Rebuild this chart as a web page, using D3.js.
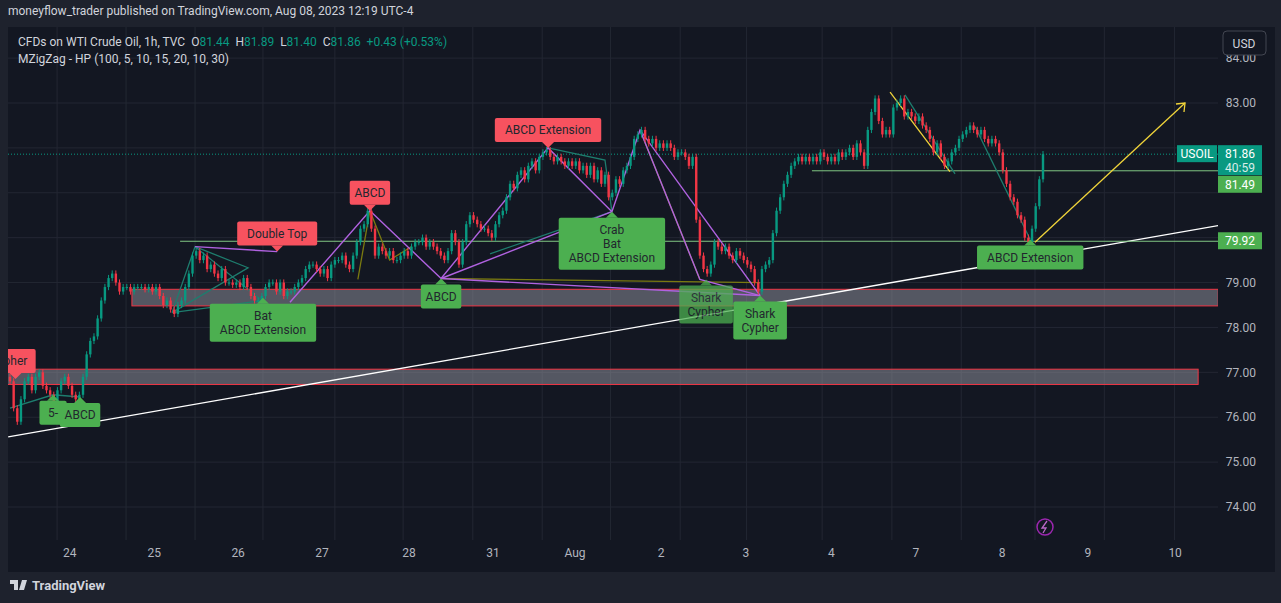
<!DOCTYPE html>
<html><head><meta charset="utf-8">
<script src="https://cdn.jsdelivr.net/npm/d3@7"></script>
<style>body{margin:0;background:#1e222d;overflow:hidden}svg{display:block}text{font-family:Roboto,"Noto Sans",sans-serif}</style>
</head><body><svg id="c" width="1281" height="603"></svg>
<script>
const closes=[76.8,76.2,75.9,76.4,76.8,76.9,76.6,76.9,77.0,76.7,
76.6,76.5,76.3,76.6,76.8,76.9,76.7,76.5,76.4,76.5,
76.9,77.4,77.7,77.8,78.2,78.6,78.9,79.1,79.2,79.0,
78.8,78.9,78.9,78.8,78.9,78.9,78.9,78.85,78.9,78.8,
78.9,78.7,78.5,78.6,78.4,78.3,78.5,78.6,78.9,79.2,
79.6,79.7,79.5,79.6,79.3,79.4,79.2,79.1,79.3,79.0,
79.0,78.95,79.0,78.9,79.1,78.9,78.7,78.6,78.6,78.7,
78.9,79.0,79.0,78.8,79.0,78.7,78.8,78.8,78.9,79.0,
79.1,79.3,79.4,79.4,79.3,79.2,79.3,79.1,79.4,79.5,
79.5,79.6,79.4,79.3,79.6,79.9,80.2,80.3,80.6,80.2,
79.6,79.8,79.7,79.6,79.7,79.5,79.5,79.6,79.7,79.6,
79.8,79.9,79.9,80.0,79.8,79.9,79.8,79.7,79.6,79.5,
79.7,80.1,79.9,79.4,79.9,80.3,80.5,80.4,80.3,80.2,
80.2,80.1,80.0,80.3,80.5,80.6,80.9,81.2,81.1,81.4,
81.5,81.3,81.6,81.7,81.5,81.8,81.9,81.95,81.8,81.7,
81.8,81.7,81.6,81.7,81.6,81.7,81.5,81.6,81.4,81.6,
81.3,81.5,81.2,81.4,80.9,81.0,81.3,81.2,81.5,81.6,
81.8,82.2,82.3,82.4,82.2,82.1,82.2,82.0,82.1,82.0,
82.1,82.0,81.8,81.9,81.9,81.8,81.6,81.8,80.4,79.6,
79.3,79.2,79.4,79.9,79.8,79.7,79.8,79.6,79.5,79.7,
79.6,79.5,79.4,79.3,79.0,78.8,79.3,79.4,79.5,80.1,
80.6,80.9,81.2,81.4,81.6,81.7,81.8,81.7,81.8,81.7,
81.8,81.7,81.9,81.8,81.7,81.8,81.7,81.9,81.8,81.9,
82.0,81.8,82.1,81.9,81.6,82.4,82.8,83.1,82.6,82.3,
82.4,82.3,82.9,83.0,83.1,82.7,82.8,82.7,82.6,82.7,
82.5,82.4,82.2,81.9,82.1,81.8,81.6,81.7,81.9,82.0,
82.2,82.3,82.4,82.5,82.4,82.3,82.4,82.2,82.1,82.2,
82.1,81.9,81.5,81.2,80.9,80.8,80.5,80.4,80.0,79.9,
80.2,80.7,81.3,81.86];
const firstOpen=76.9;
const priceTicks=[84,83,82,81,80,79,78,77,76,75,74];
const tickLabels=[84,83,79,78,77,76,75,74];
const dateLabels=["24","25","26","27","28","31","Aug","2","3","4","7","8","9","10"];
const dateBars=[16.4,39.5,62.5,85.5,109.3,132.3,154.8,178.4,201.6,225,248.2,271.8,295.3,319.2];
const gridBars=[12.9,31.8,50.7,69.3,89,107.7,126.8,145.8,164.5,183.6,201.8,222.5,241.6,260.6,280.8,299.8,319];
const zones=[[33.4,331,78.48,78.85],[-1,325.5,76.73,77.07]];
const trend=[[-0.5,75.56],[331,80.27]];
const hlines=[[46.6,331,79.92],[219.7,331,81.49]];
const purple=[[[76.7,78.56],[98.6,80.6],[118.1,79.09],[147.4,82.0],[164.9,80.58],[172.6,82.4],[205.5,78.71]],
 [[118.1,79.09],[164.9,80.58]],[[118.1,79.09],[205.5,78.71]],[[50.7,79.8],[73.2,79.69]],[[172.6,82.4],[189,79.07],[205.5,78.71]]];
const teal=[[[44.4,78.33],[50.7,79.8],[65.2,79.33],[44.4,78.33]],[[50.7,79.8],[69,78.6]],[[44.4,78.33],[69,78.6]],
 [[147.4,82.0],[163,81.73],[164.9,80.58]],[[131.5,79.64],[164.9,80.58]],[[245.2,83.18],[258.9,81.42]],[[279.5,79.96],[264.4,82.47]],
 [[0,76.2],[11.8,76.5],[19.2,76.45]]];
const olive=[[[172.6,82.4],[189,79.07]],[[95.3,79.07],[98.6,80.6]],[[118.1,79.09],[205.5,79.0]],[[98.6,80.6],[104,79.5],[110,79.8]]];
const yellow=[[[241.1,83.24],[257.5,81.47]]];
const arrow=[[280.8,79.9],[321.9,83.0]];
const redLabels=[{t:["ABCD Extension"],b:147.4,p:82.0},{t:["ABCD"],b:98.6,p:80.6},{t:["Double Top"],b:73.2,p:79.69},{t:["pher"],b:1.5,p:76.85}];
const greenLabels=[{t:["ABCD"],b:118.1,p:79.09},{t:["Bat","ABCD Extension"],b:69.3,p:78.66},{t:["Crab","Bat","ABCD Extension"],b:164.9,p:80.58},
 {t:["Shark","Cypher"],b:190.7,p:79.07,o:0.75},{t:["Shark","Cypher"],b:205.5,p:78.71},{t:["ABCD Extension"],b:279.5,p:79.96},
 {t:["5-"],b:11.8,p:76.5},{t:["ABCD"],b:19.2,p:76.45}];

const svg=d3.select("#c");
const L=8,R=1218,T=27,B=540;
const x=d3.scaleLinear().domain([0,283]).range([10,1043]);
const y=d3.scaleLinear().domain([74,83]).range([507,103]);
svg.append("rect").attr("width",1281).attr("height",603).attr("fill","#1e222d");
svg.append("rect").attr("x",L).attr("y",T).attr("width",1267).attr("height",B-T+32).attr("fill","#131722");
svg.append("text").attr("x",8).attr("y",15).attr("fill","#d1d4dc").attr("font-size",12).text("moneyflow_trader published on TradingView.com, Aug 08, 2023 12:19 UTC-4");
svg.append("defs").append("clipPath").attr("id","cp").append("rect").attr("x",L).attr("y",T).attr("width",R-L).attr("height",B-T);
const g=svg.append("g").attr("clip-path","url(#cp)");
g.selectAll(".gv").data(gridBars).join("line").attr("x1",d=>x(d)).attr("x2",d=>x(d)).attr("y1",T).attr("y2",B).attr("stroke","#232733");
g.selectAll(".gh").data(priceTicks).join("line").attr("x1",L).attr("x2",R).attr("y1",d=>y(d)).attr("y2",d=>y(d)).attr("stroke","#232733");
g.selectAll(".z").data(zones).join("rect").attr("x",d=>x(d[0])).attr("width",d=>x(d[1])-x(d[0])).attr("y",d=>y(d[3])).attr("height",d=>y(d[2])-y(d[3]))
 .attr("fill","rgba(150,152,162,0.5)").attr("stroke","#f23645").attr("stroke-width",1);
const line=d3.line().x(d=>x(d[0])).y(d=>y(d[1]));
g.append("path").attr("d",line(trend)).attr("stroke","#ffffff").attr("stroke-width",1.3).attr("fill","none");
g.selectAll(".hl").data(hlines).join("line").attr("x1",d=>x(d[0])).attr("x2",d=>x(d[1])).attr("y1",d=>y(d[2])).attr("y2",d=>y(d[2])).attr("stroke","#81c784").attr("stroke-width",1);
g.append("line").attr("x1",L).attr("x2",R).attr("y1",y(81.86)).attr("y2",y(81.86)).attr("stroke","#089981").attr("stroke-dasharray","1,2");
function paths(arr,col,w){g.selectAll(null).data(arr).join("path").attr("d",line).attr("stroke",col).attr("stroke-width",w).attr("fill","none");}
paths(olive,"#7a7a10",1.3);paths(teal,"#1e7d6e",1.3);paths(purple,"#b062e0",1.4);paths(yellow,"#f0d43a",1.3);
const bars=closes.map((c,i)=>{const o=i?closes[i-1]:firstOpen;return {i,o,c,h:Math.max(o,c)+0.07,l:Math.min(o,c)-0.07};});
const cg=g.selectAll(".cd").data(bars).join("g");
cg.append("line").attr("x1",d=>x(d.i)).attr("x2",d=>x(d.i)).attr("y1",d=>y(d.h)).attr("y2",d=>y(d.l)).attr("stroke",d=>d.c>=d.o?"#089981":"#f23645");
cg.append("rect").attr("x",d=>x(d.i)-1.2).attr("width",2.4).attr("y",d=>y(Math.max(d.o,d.c))).attr("height",d=>Math.max(1,Math.abs(y(d.o)-y(d.c))))
 .attr("fill",d=>d.c>=d.o?"#089981":"#f23645");
paths([arrow],"#f0d43a",1.3);
const a1=arrow[1];g.append("path").attr("d",`M${x(a1[0])-9},${y(a1[1])+1}L${x(a1[0])},${y(a1[1])}L${x(a1[0])-1},${y(a1[1])+9}`).attr("stroke","#f0d43a").attr("fill","none").attr("stroke-width",1.3);
function label(d,fill,down){
 const lh=14,w=d3.max(d.t,s=>s.length)*6.6+14,h=d.t.length*lh+10,cx=x(d.b),ty=y(d.p);
 const top=down?ty-6-h:ty+6;
 const lg=g.append("g").attr("opacity",d.o||1);
 lg.append("rect").attr("x",cx-w/2).attr("y",top).attr("width",w).attr("height",h).attr("rx",2).attr("fill",fill);
 lg.append("path").attr("d",down?`M${cx-6},${ty-6}L${cx},${ty}L${cx+6},${ty-6}Z`:`M${cx-6},${ty+6}L${cx},${ty}L${cx+6},${ty+6}Z`).attr("fill",fill);
 d.t.forEach((s,k)=>lg.append("text").attr("x",cx).attr("y",top+5+lh*(k+0.5)).attr("dy","0.35em").attr("text-anchor","middle").attr("font-size",12).attr("fill","#22272e").text(s));
}
redLabels.forEach(d=>label(d,"#f7525f",true));
greenLabels.forEach(d=>label(d,"#4caf50",false));
const ax=svg.append("g");
ax.selectAll("text").data(tickLabels).join("text").attr("x",1256).attr("y",d=>y(d)).attr("dy","0.35em").attr("text-anchor","end").attr("font-size",12).attr("fill","#b2b5be").text(d=>d.toFixed(2));
function tag(p,lines,fill,x0,w,shift){const yy=y(p)+(shift||0),h=lines.length>1?30:17;ax.append("rect").attr("x",x0).attr("y",yy-9).attr("width",w).attr("height",h).attr("fill",fill);
 lines.forEach((s,k)=>ax.append("text").attr("x",x0+w/2).attr("y",yy+k*14).attr("dy","0.35em").attr("text-anchor","middle").attr("font-size",12).attr("fill",k?"#d8ede9":"#fff").text(s));}
tag(79.92,["79.92"],"#4caf50",1218,44);tag(81.49,["81.49"],"#4caf50",1218,44,14);
tag(81.86,["81.86","40:59"],"#089981",1218,44);tag(81.86,["USOIL"],"#089981",1177,40);
ax.append("rect").attr("x",1223).attr("y",31).attr("width",43).attr("height",24).attr("rx",4).attr("fill","#131722").attr("stroke","#434651");
ax.append("text").attr("x",1244).attr("y",44).attr("dy","0.35em").attr("text-anchor","middle").attr("font-size",12).attr("fill","#d1d4dc").text("USD");
svg.selectAll(".dt").data(dateLabels).join("text").attr("x",(d,i)=>x(dateBars[i])).attr("y",557).attr("text-anchor","middle").attr("font-size",12).attr("fill","#b2b5be").text(d=>d);
const lt=svg.append("text").attr("x",18).attr("y",46).attr("font-size",12).attr("fill","#d1d4dc");
[["CFDs on WTI Crude Oil, 1h, TVC  O","#d1d4dc"],["81.44","#089981"],["  H","#d1d4dc"],["81.89","#089981"],["  L","#d1d4dc"],["81.40","#089981"],["  C","#d1d4dc"],["81.86  +0.43 (+0.53%)","#089981"]]
 .forEach(s=>lt.append("tspan").attr("fill",s[1]).attr("xml:space","preserve").text(s[0]));
svg.append("text").attr("x",18).attr("y",63).attr("font-size",12).attr("fill","#d1d4dc").text("MZigZag - HP (100, 5, 10, 15, 20, 10, 30)");
svg.append("circle").attr("cx",1045).attr("cy",527).attr("r",8).attr("fill","none").attr("stroke","#9c27b0").attr("stroke-width",1.5);
svg.append("path").attr("d","M1047,521L1042,528L1046,528L1043,533").attr("stroke","#ba68c8").attr("fill","none").attr("stroke-width",1.3);
svg.append("path").attr("d","M10,580h8v10h-4v-6h-4zM22,580l-3,10h5l3-10z").attr("fill","#d1d4dc");
svg.append("text").attr("x",32).attr("y",590).attr("font-size",13).attr("font-weight","bold").attr("fill","#d1d4dc").text("TradingView");
</script></body></html>
